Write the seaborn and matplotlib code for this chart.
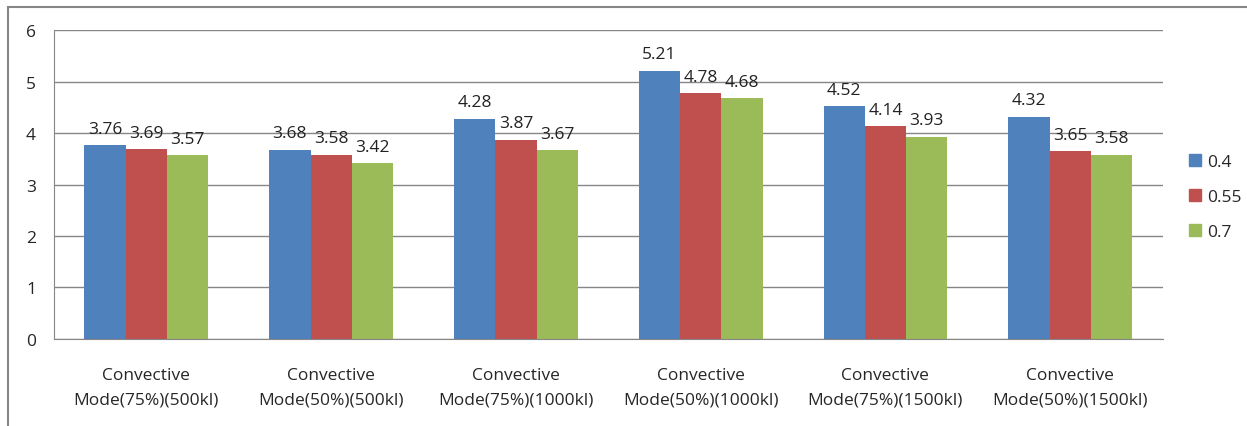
import matplotlib
matplotlib.use("Agg")
import matplotlib.pyplot as plt
import matplotlib.patches as mpatches
import numpy as np
import pandas as pd
import seaborn as sns

CATEGORIES = [
    "Convective\nMode(75%)(500kl)",
    "Convective\nMode(50%)(500kl)",
    "Convective\nMode(75%)(1000kl)",
    "Convective\nMode(50%)(1000kl)",
    "Convective\nMode(75%)(1500kl)",
    "Convective\nMode(50%)(1500kl)",
]
SERIES = ["0.4", "0.55", "0.7"]
VALUES_04 = [3.76, 3.68, 4.28, 5.21, 4.52, 4.32]
VALUES_055 = [3.69, 3.58, 3.87, 4.78, 4.14, 3.65]
VALUES_07 = [3.57, 3.42, 3.67, 4.68, 3.93, 3.58]
COLORS = ["#4F81BD", "#C0504D", "#9BBB59"]

df = pd.DataFrame({
    "category": CATEGORIES * 3,
    "series": sum([[s] * len(CATEGORIES) for s in SERIES], []),
    "value": VALUES_04 + VALUES_055 + VALUES_07,
})

sns.set_style("white")
plt.rcParams["font.family"] = ["Open Sans", "DejaVu Sans"]

fig = plt.figure(figsize=(12.47, 4.27), dpi=100)
ax = fig.add_axes([0.0433, 0.204, 0.889, 0.723])

sns.barplot(data=df, x="category", y="value", hue="series", order=CATEGORIES,
            hue_order=SERIES, palette=COLORS, saturation=1, width=0.67, gap=0,
            edgecolor="none", linewidth=0, ax=ax)

for cont in ax.containers:
    ax.bar_label(cont, fmt="%.2f", padding=6, fontsize=12.5, color="#222222")

ax.set_ylim(0, 6)
ax.set_xlim(-0.5, len(CATEGORIES) - 0.5)
ax.set_yticks(range(0, 7))
ax.yaxis.grid(True, color="#868686", linewidth=1)
ax.set_axisbelow(True)
ax.set_xlabel("")
ax.set_ylabel("")

for side in ["top", "right"]:
    ax.spines[side].set_visible(False)
ax.spines["left"].set_color("#868686")
ax.spines["bottom"].set_color("#868686")

ax.tick_params(axis="y", length=5, color="#868686", labelsize=12.5, pad=8)
ax.tick_params(axis="x", which="major", length=0, labelsize=12.5, pad=20)
ax.set_xticks(np.arange(-0.5, len(CATEGORIES)), minor=True)
ax.tick_params(axis="x", which="minor", length=6, color="#868686")
for lbl in ax.get_xticklabels():
    lbl.set_linespacing(1.75)

handles = [mpatches.Patch(color=c, label=s) for s, c in zip(SERIES, COLORS)]
ax.legend(handles=handles, loc="center left", bbox_to_anchor=(1.01, 0.46),
          frameon=False, fontsize=12.5, handlelength=0.7, handleheight=0.7,
          handletextpad=0.3, labelspacing=1.1)

fig.patches.append(mpatches.Rectangle((8 / 1247, -0.05), 1.1, (427 - 8) / 427 + 0.05,
                                      transform=fig.transFigure, fill=False,
                                      edgecolor="#868686", linewidth=1.5))

fig.savefig("out.png", dpi=100)
